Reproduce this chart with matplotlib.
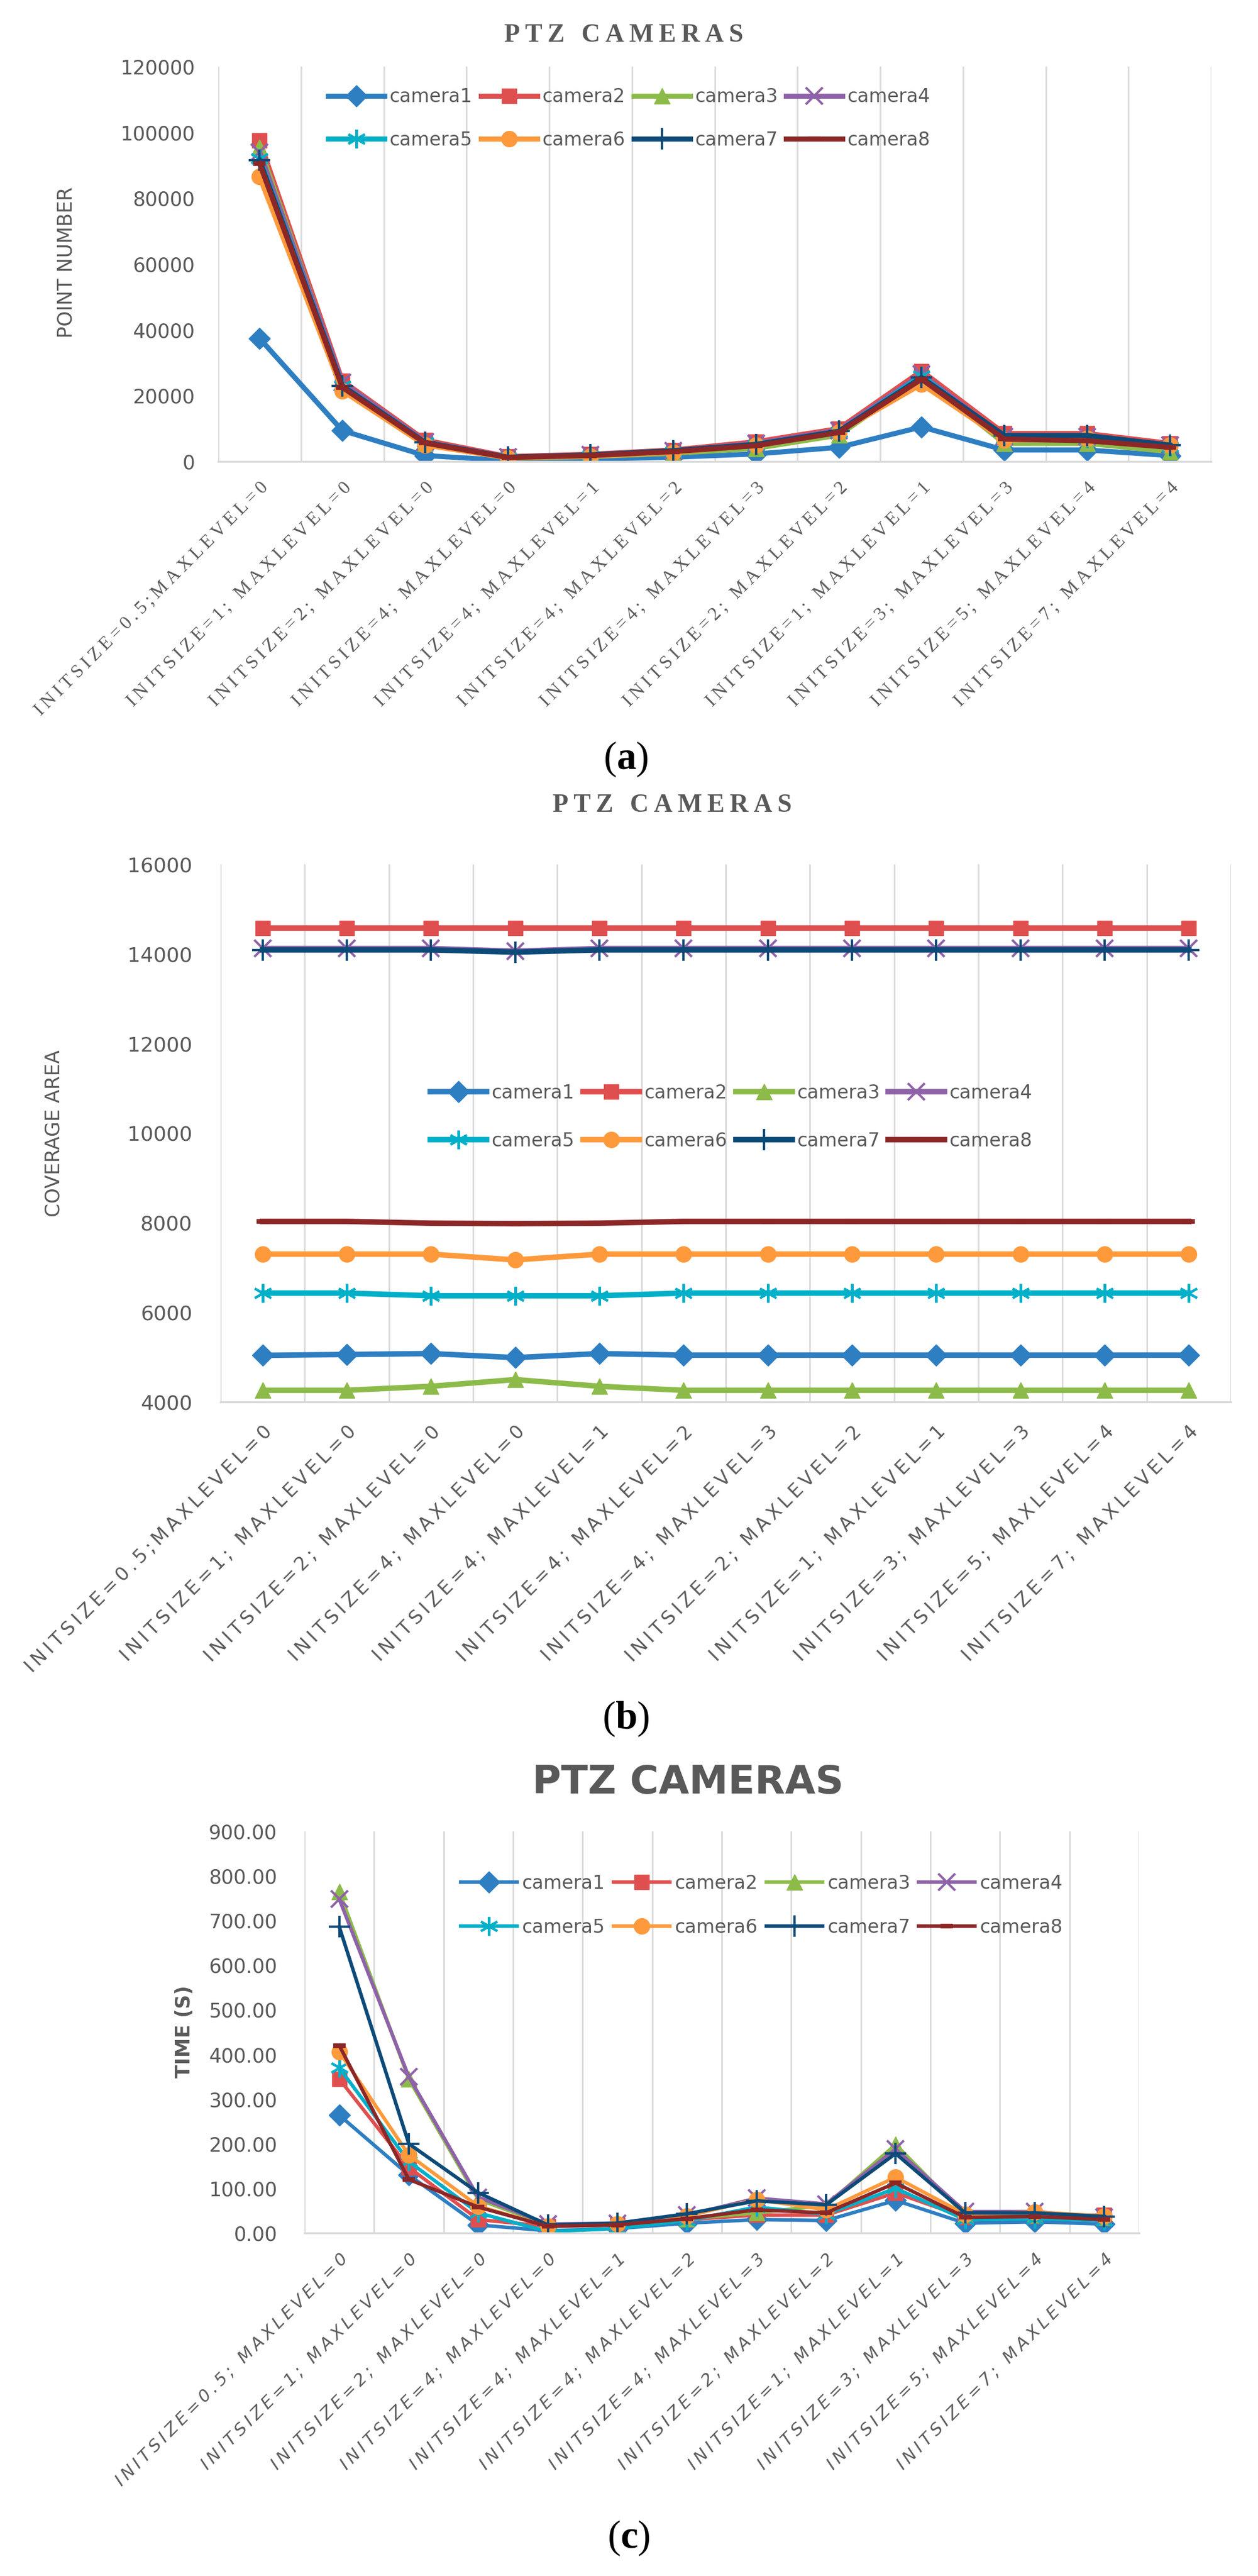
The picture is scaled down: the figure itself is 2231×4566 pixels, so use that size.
import numpy as np
import matplotlib
matplotlib.use("Agg")
import matplotlib.pyplot as plt
from matplotlib.ticker import FormatStrFormatter

# ---- data ----
cats_ab = ["INITSIZE=0.5;MAXLEVEL=0", "INITSIZE=1; MAXLEVEL=0", "INITSIZE=2; MAXLEVEL=0",
           "INITSIZE=4; MAXLEVEL=0", "INITSIZE=4; MAXLEVEL=1", "INITSIZE=4; MAXLEVEL=2",
           "INITSIZE=4; MAXLEVEL=3", "INITSIZE=2; MAXLEVEL=2", "INITSIZE=1; MAXLEVEL=1",
           "INITSIZE=3; MAXLEVEL=3", "INITSIZE=5; MAXLEVEL=4", "INITSIZE=7; MAXLEVEL=4"]
cats_c = ["INITSIZE=0.5; MAXLEVEL=0"] + cats_ab[1:]
cameras = ["camera1", "camera2", "camera3", "camera4", "camera5", "camera6", "camera7", "camera8"]

point_number = [
    [37400, 9400, 1800, 300, 700, 1300, 2300, 4300, 10500, 3500, 3500, 1800],
    [97500, 24500, 6500, 1500, 2200, 3500, 6000, 10000, 27500, 8500, 8500, 5500],
    [95500, 23500, 5500, 1000, 1500, 2500, 4000, 8000, 25500, 5500, 5500, 3000],
    [94000, 24000, 6000, 1300, 2000, 3200, 5500, 9500, 26500, 7500, 7500, 5000],
    [92000, 23000, 5800, 1200, 1800, 3000, 5000, 9000, 26000, 7000, 7000, 4500],
    [86500, 21500, 5000, 1100, 1600, 2800, 5000, 9000, 23500, 6500, 7000, 5000],
    [91500, 23000, 5800, 1300, 2000, 3300, 5200, 9200, 25500, 7900, 7900, 5000],
    [90500, 22500, 5600, 1200, 1800, 3000, 4800, 8800, 25000, 6800, 6300, 4300],
]
coverage_area = [
    [5040, 5060, 5080, 4990, 5080, 5045, 5045, 5045, 5045, 5045, 5045, 5045],
    [14580, 14580, 14580, 14580, 14580, 14580, 14580, 14580, 14580, 14580, 14580, 14580],
    [4260, 4260, 4350, 4500, 4350, 4260, 4260, 4260, 4260, 4260, 4260, 4260],
    [14120, 14120, 14120, 14060, 14120, 14120, 14120, 14120, 14120, 14120, 14120, 14120],
    [6430, 6430, 6370, 6370, 6370, 6430, 6430, 6430, 6430, 6430, 6430, 6430],
    [7300, 7300, 7300, 7170, 7300, 7300, 7300, 7300, 7300, 7300, 7300, 7300],
    [14090, 14090, 14090, 14040, 14090, 14090, 14090, 14090, 14090, 14090, 14090, 14090],
    [8030, 8030, 7990, 7980, 7990, 8030, 8030, 8030, 8030, 8030, 8030, 8030],
]
time_s = [
    [264, 130, 18, 5, 10, 22, 30, 28, 73, 22, 25, 20],
    [345, 147, 30, 15, 18, 30, 40, 40, 90, 35, 38, 40],
    [765, 345, 75, 18, 22, 32, 45, 62, 198, 40, 40, 35],
    [748, 350, 80, 20, 22, 40, 78, 65, 188, 48, 48, 35],
    [370, 160, 45, 3, 10, 28, 58, 42, 100, 30, 32, 28],
    [406, 175, 60, 15, 20, 38, 75, 52, 125, 42, 47, 38],
    [686, 200, 90, 18, 22, 43, 72, 63, 178, 45, 45, 37],
    [420, 120, 58, 15, 18, 32, 52, 45, 112, 35, 37, 30],
]

colors = ["#2E7EC2", "#E04F4F", "#8DBB4A", "#8E62A8", "#00AFC8", "#FF9A3C", "#0C4A78", "#8C2727"]
markers = ["D", "s", "^", "x", (6, 2, 0), "o", "+", "_"]
msizes = [19, 19, 20, 22, 24, 20, 28, 16]
GRAY = "#595959"
GRID = "#D9D9D9"
SERIF = ["Liberation Serif", "DejaVu Serif"]
plt.rcParams["mathtext.fontset"] = "custom"
plt.rcParams["mathtext.rm"] = "Liberation Serif"
plt.rcParams["mathtext.bf"] = "Liberation Serif:bold"


def spaced(s):
    return "\u2009".join(s)


W, H = 2231, 4566
fig = plt.figure(figsize=(W / 100, H / 100), dpi=100)


def px_axes(x0, x1, y0, y1):
    return fig.add_axes([x0 / W, 1 - y1 / H, (x1 - x0) / W, (y1 - y0) / H])


def draw(ax, series, lw):
    x = np.arange(len(series[0]))
    for vals, name, c, m, ms in zip(series, cameras, colors, markers, msizes):
        line_marker = m in ("x", "+", "_") or isinstance(m, tuple)
        ax.plot(x, vals, color=c, lw=lw, marker=m, ms=ms, label=name,
                mec=c, mfc=c, mew=6 if m == "_" else (3 if line_marker else 1))
    ax.set_xlim(-0.5, len(x) - 0.5)
    ax.set_xticks(x)
    ax.set_xticks(np.arange(-0.5, len(x)), minor=True)
    ax.grid(which="minor", axis="x", color=GRID, lw=2)
    ax.tick_params(which="both", length=0)
    for s in ("top", "right", "left"):
        ax.spines[s].set_visible(False)
    ax.spines["bottom"].set_color(GRID)
    ax.spines["bottom"].set_linewidth(2.5)
    ax.set_axisbelow(True)


def legend(ax, cx, cy, spacing):
    # matplotlib fills legend columns first; reorder so rows read camera1..4 / camera5..8
    h, l = ax.get_legend_handles_labels()
    order = [0, 4, 1, 5, 2, 6, 3, 7]
    ax.legend([h[i] for i in order], [l[i] for i in order], ncol=4, loc="center",
              bbox_to_anchor=(cx / W, 1 - cy / H), bbox_transform=fig.transFigure,
              frameon=False, fontsize=24, handlelength=3.0, handletextpad=0.25,
              columnspacing=0.45, labelspacing=spacing, labelcolor=GRAY)


# ---- (a) point number ----
ax_a = px_axes(387, 2148, 118, 818)
draw(ax_a, point_number, 6.5)
ax_a.set_ylim(0, 120000)
ax_a.set_yticks(np.arange(0, 120001, 20000))
ax_a.yaxis.set_major_formatter(FormatStrFormatter("%d"))
ax_a.tick_params(axis="y", labelsize=25, labelcolor=GRAY, pad=30)
ax_a.set_xticklabels([spaced(c) for c in cats_ab], rotation=45, ha="right",
                     rotation_mode="anchor", fontsize=24, color=GRAY, family=SERIF)
ax_a.tick_params(axis="x", pad=22)
legend(ax_a, 1116, 210, 1.3)
fig.text(1106 / W, 1 - 63 / H, spaced("PTZ CAMERAS"), family=SERIF, weight="bold",
         fontsize=33, color=GRAY, ha="center", va="center")
fig.text(117 / W, 1 - 465 / H, "POINT NUMBER", rotation=90, fontsize=25, color=GRAY,
         ha="center", va="center")
fig.text(1110 / W, 1 - 1346 / H, r"($\mathbf{a}$)", family=SERIF, fontsize=50,
         ha="center", va="center")

# ---- (b) coverage area ----
ax_b = px_axes(391, 2183, 1532, 2485)
draw(ax_b, coverage_area, 7)
ax_b.set_ylim(4000, 16000)
ax_b.set_yticks(np.arange(4000, 16001, 2000))
ax_b.yaxis.set_major_formatter(FormatStrFormatter("%d"))
ax_b.tick_params(axis="y", labelsize=26, labelcolor=GRAY, pad=36)
ax_b.set_xticklabels([spaced(c) for c in cats_ab], rotation=45, ha="right",
                     rotation_mode="anchor", fontsize=24, color=GRAY)
ax_b.tick_params(axis="x", pad=26)
legend(ax_b, 1297, 1980, 1.55)
fig.text(1192 / W, 1 - 1428 / H, spaced("PTZ CAMERAS"), family=SERIF, weight="bold",
         fontsize=33, color=GRAY, ha="center", va="center")
fig.text(96 / W, 1 - 2009 / H, "COVERAGE AREA", rotation=90, fontsize=25, color=GRAY,
         ha="center", va="center")
fig.text(1110 / W, 1 - 3047 / H, r"($\mathbf{b}$)", family=SERIF, fontsize=50,
         ha="center", va="center")

# ---- (c) time ----
ax_c = px_axes(540, 2020, 3246, 3958)
draw(ax_c, time_s, 4.5)
ax_c.set_ylim(0, 900)
ax_c.set_yticks(np.arange(0, 901, 100))
ax_c.yaxis.set_major_formatter(FormatStrFormatter("%.2f"))
ax_c.tick_params(axis="y", labelsize=25, labelcolor=GRAY, pad=35)
ax_c.set_xticklabels([spaced(c) for c in cats_c], rotation=45, ha="right",
                     rotation_mode="anchor", fontsize=22, color=GRAY, style="italic")
ax_c.tick_params(axis="x", pad=22)
legend(ax_c, 1351, 3377, 1.35)
fig.text(1220 / W, 1 - 3160 / H, "PTZ CAMERAS", weight="bold",
         fontsize=50, color=GRAY, ha="center", va="center")
fig.text(327 / W, 1 - 3601 / H, "TIME (S)", rotation=90, fontsize=25, color=GRAY,
         weight="bold", ha="center", va="center")
fig.text(1115 / W, 1 - 4499 / H, r"($\mathbf{c}$)", family=SERIF, fontsize=50,
         ha="center", va="center")

fig.savefig("out.png", dpi=100, facecolor="white")
